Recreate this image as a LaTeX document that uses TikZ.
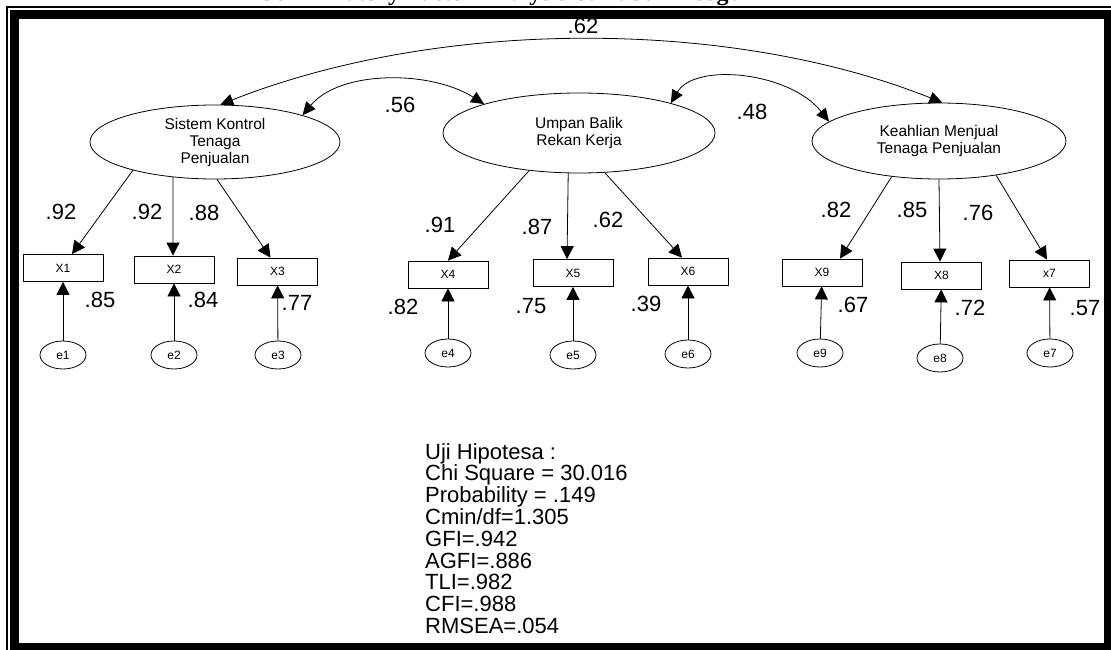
\documentclass[tikz,border=0pt]{standalone}
\usepackage{fontspec}
\setmainfont{Liberation Sans}
\newfontfamily\titlefont{Liberation Serif}
\usetikzlibrary{arrows.meta,shapes.geometric}
\tikzset{
  latent/.style={ellipse, draw, line width=0.8pt, minimum width=250pt, minimum height=74pt, inner sep=0pt, align=center, font=\fontsize{15.5}{17}\selectfont},
  obsbox/.style={draw, line width=0.8pt, minimum width=80pt, minimum height=27pt, inner sep=0pt, font=\fontsize{12}{14}\selectfont},
  errnode/.style={ellipse, draw, line width=0.8pt, minimum width=46pt, minimum height=28pt, inner sep=0pt, font=\fontsize{12}{14}\selectfont},
  lab/.style={inner sep=0pt, font=\fontsize{22}{24}\selectfont},
  arr/.style={-{Triangle[length=13pt,width=13pt]}, line width=0.8pt},
  cov/.style={{Triangle[length=13pt,width=12pt]}-{Triangle[length=13pt,width=12pt]}, line width=0.8pt},
}
\begin{document}
\begin{tikzpicture}[x=1pt,y=-1pt]
\path[use as bounding box] (0,0) rectangle (1111,650);
\clip (0,0) rectangle (1111,650);
% title (cut off at the top)
\node[anchor=base, inner sep=0pt, outer sep=0pt, font=\titlefont\bfseries\fontsize{24}{26}\selectfont] (title) at (505,0.5) {Confirmatory Factor Analysis Variabel Eksogen};
% frame
\draw[line width=2pt] (7,7) rectangle (1125,665);
\draw[line width=9pt] (14.5,14.5) rectangle (1108.5,647.5);
% latent variables
\node[latent] (L1) at (215,142) {Sistem Kontrol\\Tenaga\\Penjualan};
\node[latent, minimum width=272pt, minimum height=80pt] (L2) at (579,133) {Umpan Balik\\Rekan Kerja};
\node[latent, minimum width=254pt, minimum height=76pt] (L3) at (939,141) {Keahlian Menjual\\Tenaga Penjualan};
% observed
\node[obsbox] (X1) at (63,268) {X1};
\node[obsbox] (X2) at (174,269.5) {X2};
\node[obsbox] (X3) at (277.5,271.5) {X3};
\node[obsbox] (X4) at (448,274.5) {X4};
\node[obsbox] (X5) at (573,273) {X5};
\node[obsbox] (X6) at (688,271.5) {X6};
\node[obsbox] (X9) at (822,272.5) {X9};
\node[obsbox] (X8) at (941.5,275.5) {X8};
\node[obsbox] (X7) at (1049.5,273.5) {x7};
% errors
\node[errnode] (e1) at (63,355) {e1};
\node[errnode] (e2) at (174,355) {e2};
\node[errnode] (e3) at (278,355) {e3};
\node[errnode] (e4) at (448,353) {e4};
\node[errnode] (e5) at (573,355) {e5};
\node[errnode] (e6) at (688,354) {e6};
\node[errnode] (e9) at (820,353) {e9};
\node[errnode] (e8) at (940,358) {e8};
\node[errnode] (e7) at (1050,353) {e7};
% loadings
\draw[arr] (L1.199) -- ([xshift=9pt]X1.north);
\draw[arr] (L1.220) -- ([xshift=-1pt]X2.north);
\draw[arr] (L1.273) -- ([xshift=-7pt]X3.north);
\draw[arr] (L2.217) -- (X4.north);
\draw[arr] (L2.255) -- ([xshift=-6pt]X5.north);
\draw[arr] (L2.303) -- ([xshift=-6pt]X6.north);
\draw[arr] (L3.217) -- ([xshift=18pt]X9.north);
\draw[arr] (L3.270) -- ([xshift=-1.5pt]X8.north);
\draw[arr] (L3.329) -- ([xshift=-2.5pt]X7.north);
% error paths
\foreach \i in {1,...,9} {\draw[arr] (e\i) -- (X\i);}
% covariances
\draw[cov] (L1.82) .. controls (440,18) and (730,18) .. (L3.85);
\draw[cov] (L1.17) .. controls (340,70) and (430,70) .. (L2.163);
\draw[cov] (L2.18) .. controls (695,62) and (790,72) .. (L3.170);
% labels
\node[lab] (c62) at (583,26) {.62};
\node[lab] (c56) at (400,105) {.56};
\node[lab] (c48) at (752,112) {.48};
\node[lab] (l1) at (61,212) {.92};
\node[lab] (l2) at (147,212) {.92};
\node[lab] (l3) at (204,213) {.88};
\node[lab] (r1) at (100,300) {.85};
\node[lab] (r2) at (203,300) {.84};
\node[lab] (r3) at (297,303) {.77};
\node[lab] (l4) at (440,225) {.91};
\node[lab] (l5) at (537,227) {.87};
\node[lab] (l6) at (608,220) {.62};
\node[lab] (r4) at (403,307) {.82};
\node[lab] (r5) at (531,306) {.75};
\node[lab] (r6) at (646,304) {.39};
\node[lab] (l9) at (836,210) {.82};
\node[lab] (l8) at (912,210) {.85};
\node[lab] (l7) at (978,213) {.76};
\node[lab] (r9) at (853,305) {.67};
\node[lab] (r8) at (970,308) {.72};
\node[lab] (r7) at (1085,308) {.57};
% fit statistics
\node[anchor=north west, inner sep=0pt, align=left, font=\fontsize{22}{21.8}\selectfont] (fit) at (425,443) {Uji Hipotesa :\\Chi Square = 30.016\\Probability = .149\\Cmin/df=1.305\\GFI=.942\\AGFI=.886\\TLI=.982\\CFI=.988\\RMSEA=.054};
\end{tikzpicture}
\end{document}
